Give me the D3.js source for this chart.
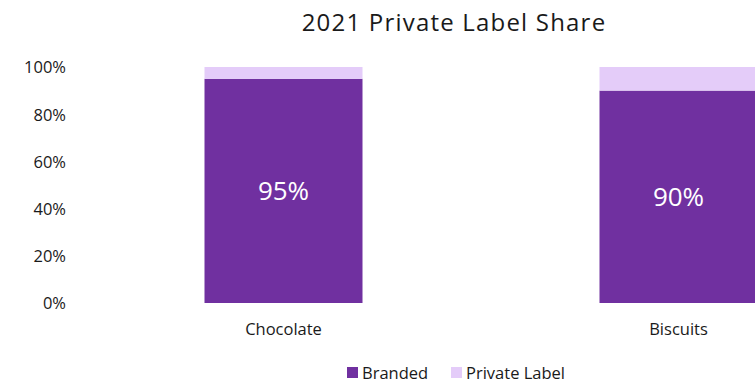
<!DOCTYPE html>
<html>
<head>
<meta charset="utf-8">
<script src="https://cdn.jsdelivr.net/npm/d3@7"></script>
<style>
  html, body { margin: 0; padding: 0; background: #fff; overflow: hidden; }
  svg { display: block; font-family: "Open Sans", sans-serif; }
</style>
</head>
<body>
<svg id="chart" width="755" height="383"></svg>
<script>
// Category share data (fractions of 1)
const categories = ["Chocolate", "Biscuits"];
const branded = [0.95, 0.90];
const privateLabel = [0.05, 0.10];
const seriesNames = ["Branded", "Private Label"];
const seriesColors = ["#7030A0", "#E4CCF9"];
const yTicks = [0, 0.2, 0.4, 0.6, 0.8, 1.0];

const FONT = "'Open Sans', sans-serif";
const TEXT = "#1a1a1a";
const svg = d3.select("#chart");

const rows = categories.map((c, i) => ({ category: c, Branded: branded[i], "Private Label": privateLabel[i] }));
const stacked = d3.stack().keys(seriesNames)(rows);

// Plot area extends beyond the right edge of the viewport
const x = d3.scaleBand()
  .domain(categories)
  .range([86, 876])
  .paddingInner(0.6)
  .paddingOuter(0.3);

const y = d3.scaleLinear().domain([0, 1]).range([303, 67]);

// Title
svg.append("text")
  .attr("x", 454).attr("y", 31)
  .attr("text-anchor", "middle")
  .attr("font-size", 24)
  .attr("letter-spacing", 1.2)
  .attr("fill", TEXT)
  .text("2021 Private Label Share");

// Y axis (labels only)
const yAxis = svg.append("g")
  .attr("transform", "translate(66,0)")
  .call(d3.axisLeft(y).tickValues(yTicks).tickFormat(d3.format(".0%")).tickSize(0).tickPadding(0));
yAxis.select(".domain").remove();
yAxis.selectAll("text").attr("font-size", 16.5).attr("fill", TEXT).attr("font-family", FONT).attr("dy", "0.36em");

// Stacked bars
svg.append("g").selectAll("g")
  .data(stacked)
  .join("g")
  .attr("fill", (d, i) => seriesColors[i])
  .selectAll("rect")
  .data(d => d)
  .join("rect")
  .attr("x", d => x(d.data.category))
  .attr("y", d => y(d[1]))
  .attr("width", x.bandwidth())
  .attr("height", d => y(d[0]) - y(d[1]));

// Value labels on the branded segment
svg.append("g").selectAll("text")
  .data(stacked[0])
  .join("text")
  .attr("x", d => x(d.data.category) + x.bandwidth() / 2)
  .attr("y", d => (y(d[0]) + y(d[1])) / 2)
  .attr("dy", "0.36em")
  .attr("text-anchor", "middle")
  .attr("font-size", 26)
  .attr("fill", "#ffffff")
  .text(d => d3.format(".0%")(d.data.Branded));

// X axis (category labels only)
const xAxis = svg.append("g")
  .attr("transform", "translate(0,335)")
  .call(d3.axisBottom(x).tickSize(0).tickPadding(0));
xAxis.select(".domain").remove();
xAxis.selectAll("text").attr("font-size", 16.5).attr("fill", TEXT).attr("font-family", FONT).attr("y", 0).attr("dy", 0);

// Legend
const legendX = [347, 451];
const legend = svg.append("g").selectAll("g")
  .data(seriesNames)
  .join("g")
  .attr("transform", (d, i) => `translate(${legendX[i]},367)`);
legend.append("rect")
  .attr("width", 11).attr("height", 11)
  .attr("fill", (d, i) => seriesColors[i]);
legend.append("text")
  .attr("x", 15).attr("y", 12)
  .attr("font-size", 16.5)
  .attr("fill", TEXT)
  .text(d => d);
</script>
</body>
</html>
